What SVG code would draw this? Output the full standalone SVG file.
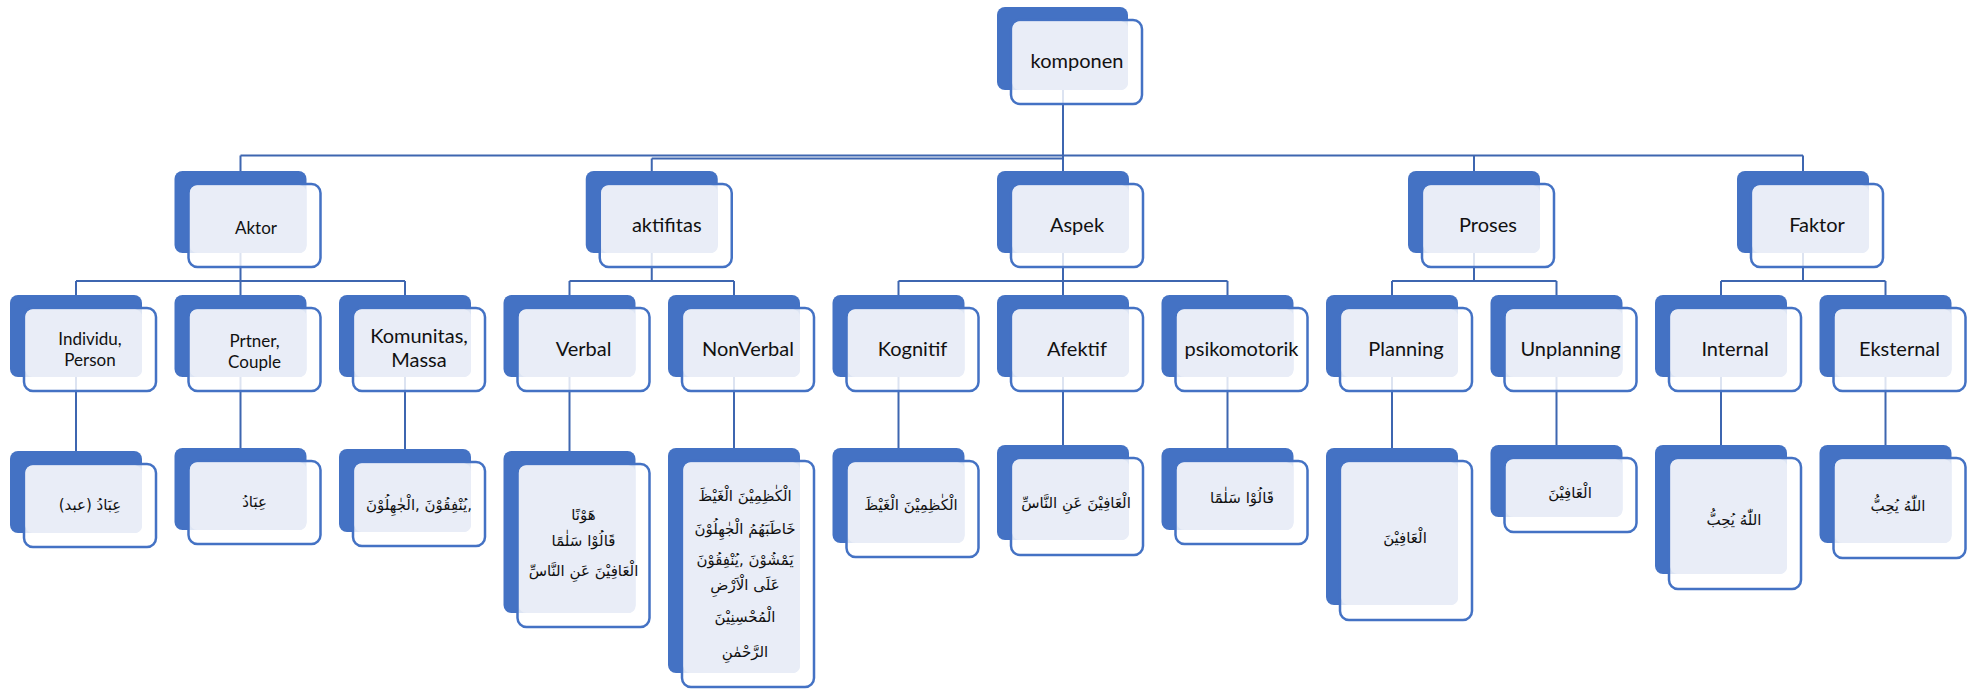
<svg xmlns="http://www.w3.org/2000/svg" width="1975" height="690" viewBox="0 0 1975 690">
  <style>
    .b { fill: #4472C4; }
    .o { fill: #ffffff; fill-opacity: 0.82; stroke: #4472C4; stroke-width: 2.5; }
    .l { fill: #E9EDF7; }
    .c { fill: none; stroke: #3E66B0; stroke-width: 2; }
    .t { font-family: Lato, "Open Sans", "Liberation Sans", sans-serif; fill: #111; text-anchor: middle; }
    .ar { font-family: "DejaVu Sans", sans-serif; fill: #111; text-anchor: middle; direction: rtl; font-size: 15px; }
    .ar.ltr { direction: ltr; }
  </style>

  <!-- connectors -->
  <g id="connectors" class="c">
    <path d="M1063,50 V171"/>
    <path d="M240.5,155.5 H1803"/>
    <path d="M651.75,158.5 H1063"/>
    <path d="M240.5,155.5 V181 M651.75,158.5 V181 M1474,155.5 V181 M1803,155.5 V181"/>
    <!-- level 1 to level 2 -->
    <path d="M240.5,212 V281 M76,281 H405 M76,281 V300 M240.5,281 V300 M405,281 V300"/>
    <path d="M651.75,212 V281 M569.5,281 H734 M569.5,281 V300 M734,281 V300"/>
    <path d="M1063,212 V281 M898.5,281 H1227.5 M898.5,281 V300 M1063,281 V300 M1227.5,281 V300"/>
    <path d="M1474,212 V281 M1392,281 H1556.5 M1392,281 V300 M1556.5,281 V300"/>
    <path d="M1803,212 V281 M1721,281 H1885.5 M1721,281 V300 M1885.5,281 V300"/>
    <!-- level 2 to level 3 -->
    <path d="M76,336 V455 M240.5,336 V455 M405,336 V455 M569.5,336 V455 M734,336 V455 M898.5,336 V455"/>
    <path d="M1063,336 V455 M1227.5,336 V455 M1392,336 V455 M1556.5,336 V455 M1721,336 V455 M1885.5,336 V455"/>
  </g>

  <!-- root -->
  <g id="n-komponen">
    <rect class="b" x="997" y="7" width="131" height="83" rx="8"/>
    <rect class="o" x="1011" y="20" width="131" height="84" rx="9"/>
    <rect class="l" x="1012.5" y="21.5" width="115.5" height="68.5" rx="7"/>
    <text class="t" x="1077" y="68" font-size="20">komponen</text>
  </g>

  <!-- level 1 -->
  <g id="n-aktor">
    <rect class="b" x="174.5" y="171" width="132" height="82" rx="8"/>
    <rect class="o" x="188.5" y="184" width="132" height="83" rx="9"/>
    <rect class="l" x="190" y="185.5" width="116.5" height="67.5" rx="7"/>
    <text class="t" x="256" y="234" font-size="17">Aktor</text>
  </g>
  <g id="n-aktifitas">
    <rect class="b" x="585.75" y="171" width="132" height="82" rx="8"/>
    <rect class="o" x="599.75" y="184" width="132" height="83" rx="9"/>
    <rect class="l" x="601.25" y="185.5" width="116.5" height="67.5" rx="7"/>
    <text class="t" x="666.75" y="232" font-size="20">aktifitas</text>
  </g>
  <g id="n-aspek">
    <rect class="b" x="997" y="171" width="132" height="82" rx="8"/>
    <rect class="o" x="1011" y="184" width="132" height="83" rx="9"/>
    <rect class="l" x="1012.5" y="185.5" width="116.5" height="67.5" rx="7"/>
    <text class="t" x="1077" y="232" font-size="20">Aspek</text>
  </g>
  <g id="n-proses">
    <rect class="b" x="1408" y="171" width="132" height="82" rx="8"/>
    <rect class="o" x="1422" y="184" width="132" height="83" rx="9"/>
    <rect class="l" x="1423.5" y="185.5" width="116.5" height="67.5" rx="7"/>
    <text class="t" x="1488" y="232" font-size="20">Proses</text>
  </g>
  <g id="n-faktor">
    <rect class="b" x="1737" y="171" width="132" height="82" rx="8"/>
    <rect class="o" x="1751" y="184" width="132" height="83" rx="9"/>
    <rect class="l" x="1752.5" y="185.5" width="116.5" height="67.5" rx="7"/>
    <text class="t" x="1817" y="232" font-size="20">Faktor</text>
  </g>

  <!-- level 2 -->
  <g id="n-individu">
    <rect class="b" x="10" y="295" width="132" height="82" rx="8"/>
    <rect class="o" x="24" y="308" width="132" height="83" rx="9"/>
    <rect class="l" x="25.5" y="309.5" width="116.5" height="67.5" rx="7"/>
    <text class="t" x="90" y="345" font-size="17">Individu,</text>
    <text class="t" x="90" y="366" font-size="17">Person</text>
  </g>
  <g id="n-prtner">
    <rect class="b" x="174.5" y="295" width="132" height="82" rx="8"/>
    <rect class="o" x="188.5" y="308" width="132" height="83" rx="9"/>
    <rect class="l" x="190" y="309.5" width="116.5" height="67.5" rx="7"/>
    <text class="t" x="254.5" y="347" font-size="17">Prtner,</text>
    <text class="t" x="254.5" y="368" font-size="17">Couple</text>
  </g>
  <g id="n-komunitas">
    <rect class="b" x="339" y="295" width="132" height="82" rx="8"/>
    <rect class="o" x="353" y="308" width="132" height="83" rx="9"/>
    <rect class="l" x="354.5" y="309.5" width="116.5" height="67.5" rx="7"/>
    <text class="t" x="419" y="343" font-size="20">Komunitas,</text>
    <text class="t" x="419" y="367" font-size="20">Massa</text>
  </g>
  <g id="n-verbal">
    <rect class="b" x="503.5" y="295" width="132" height="82" rx="8"/>
    <rect class="o" x="517.5" y="308" width="132" height="83" rx="9"/>
    <rect class="l" x="519" y="309.5" width="116.5" height="67.5" rx="7"/>
    <text class="t" x="583.5" y="356" font-size="20">Verbal</text>
  </g>
  <g id="n-nonverbal">
    <rect class="b" x="668" y="295" width="132" height="82" rx="8"/>
    <rect class="o" x="682" y="308" width="132" height="83" rx="9"/>
    <rect class="l" x="683.5" y="309.5" width="116.5" height="67.5" rx="7"/>
    <text class="t" x="748" y="356" font-size="20">NonVerbal</text>
  </g>
  <g id="n-kognitif">
    <rect class="b" x="832.5" y="295" width="132" height="82" rx="8"/>
    <rect class="o" x="846.5" y="308" width="132" height="83" rx="9"/>
    <rect class="l" x="848" y="309.5" width="116.5" height="67.5" rx="7"/>
    <text class="t" x="912.5" y="356" font-size="20">Kognitif</text>
  </g>
  <g id="n-afektif">
    <rect class="b" x="997" y="295" width="132" height="82" rx="8"/>
    <rect class="o" x="1011" y="308" width="132" height="83" rx="9"/>
    <rect class="l" x="1012.5" y="309.5" width="116.5" height="67.5" rx="7"/>
    <text class="t" x="1077" y="356" font-size="20">Afektif</text>
  </g>
  <g id="n-psikomotorik">
    <rect class="b" x="1161.5" y="295" width="132" height="82" rx="8"/>
    <rect class="o" x="1175.5" y="308" width="132" height="83" rx="9"/>
    <rect class="l" x="1177" y="309.5" width="116.5" height="67.5" rx="7"/>
    <text class="t" x="1241.5" y="356" font-size="20">psikomotorik</text>
  </g>
  <g id="n-planning">
    <rect class="b" x="1326" y="295" width="132" height="82" rx="8"/>
    <rect class="o" x="1340" y="308" width="132" height="83" rx="9"/>
    <rect class="l" x="1341.5" y="309.5" width="116.5" height="67.5" rx="7"/>
    <text class="t" x="1406" y="356" font-size="20">Planning</text>
  </g>
  <g id="n-unplanning">
    <rect class="b" x="1490.5" y="295" width="132" height="82" rx="8"/>
    <rect class="o" x="1504.5" y="308" width="132" height="83" rx="9"/>
    <rect class="l" x="1506" y="309.5" width="116.5" height="67.5" rx="7"/>
    <text class="t" x="1570.5" y="356" font-size="20">Unplanning</text>
  </g>
  <g id="n-internal">
    <rect class="b" x="1655" y="295" width="132" height="82" rx="8"/>
    <rect class="o" x="1669" y="308" width="132" height="83" rx="9"/>
    <rect class="l" x="1670.5" y="309.5" width="116.5" height="67.5" rx="7"/>
    <text class="t" x="1735" y="356" font-size="20">Internal</text>
  </g>
  <g id="n-eksternal">
    <rect class="b" x="1819.5" y="295" width="132" height="82" rx="8"/>
    <rect class="o" x="1833.5" y="308" width="132" height="83" rx="9"/>
    <rect class="l" x="1835" y="309.5" width="116.5" height="67.5" rx="7"/>
    <text class="t" x="1899.5" y="356" font-size="20">Eksternal</text>
  </g>

  <!-- level 3 -->
  <g id="n-ibad-abd">
    <rect class="b" x="10" y="451" width="132" height="82" rx="8"/>
    <rect class="o" x="24" y="464" width="132" height="83" rx="9"/>
    <rect class="l" x="25.5" y="465.5" width="116.5" height="67.5" rx="7"/>
    <text class="ar" x="90" y="510" font-size="14">عِبَادُ (عبد)</text>
  </g>
  <g id="n-ibad">
    <rect class="b" x="174.5" y="448" width="132" height="82" rx="8"/>
    <rect class="o" x="188.5" y="461" width="132" height="83" rx="9"/>
    <rect class="l" x="190" y="462.5" width="116.5" height="67.5" rx="7"/>
    <text class="ar" x="254.5" y="507">عِبَادُ</text>
  </g>
  <g id="n-yunfiqun">
    <rect class="b" x="339" y="449" width="132" height="83" rx="8"/>
    <rect class="o" x="353" y="462" width="132" height="84" rx="9"/>
    <rect class="l" x="354.5" y="463.5" width="116.5" height="68.5" rx="7"/>
    <text class="ar ltr" x="419" y="510">يُنْفِقُوْنَ ,الْجٰهِلُوْنَ,</text>
  </g>
  <g id="n-verbal-ayat">
    <rect class="b" x="503.5" y="451" width="132" height="162" rx="8"/>
    <rect class="o" x="517.5" y="464" width="132" height="163" rx="9"/>
    <rect class="l" x="519" y="465.5" width="116.5" height="147.5" rx="7"/>
    <text class="ar" x="583.5" y="520">هَوْنًا</text>
    <text class="ar" x="583.5" y="546">قَالُوْا سَلٰمًا</text>
    <text class="ar" x="583.5" y="576" font-size="14">الْعَافِيْنَ عَنِ النَّاسِّ</text>
  </g>
  <g id="n-nonverbal-ayat">
    <rect class="b" x="668" y="448" width="132" height="225" rx="8"/>
    <rect class="o" x="682" y="461" width="132" height="226" rx="9"/>
    <rect class="l" x="683.5" y="462.5" width="116.5" height="210.5" rx="7"/>
    <text class="ar" x="745" y="501">الْكٰظِمِيْنَ الْغَيْظَ</text>
    <text class="ar" x="745" y="534">خَاطَبَهُمُ الْجٰهِلُوْنَ</text>
    <text class="ar" x="745" y="565">يَمْشُوْنَ ,يُنْفِقُوْنَ</text>
    <text class="ar" x="745" y="590">عَلَى الْاَرْضِ</text>
    <text class="ar" x="745" y="622">الْمُحْسِنِيْنَ</text>
    <text class="ar" x="745" y="657">الرَّحْمٰنِ</text>
  </g>
  <g id="n-kognitif-ayat">
    <rect class="b" x="832.5" y="448" width="132" height="95" rx="8"/>
    <rect class="o" x="846.5" y="461" width="132" height="96" rx="9"/>
    <rect class="l" x="848" y="462.5" width="116.5" height="80.5" rx="7"/>
    <text class="ar" x="911" y="510">الْكٰظِمِيْنَ الْغَيْظَ</text>
  </g>
  <g id="n-afektif-ayat">
    <rect class="b" x="997" y="445" width="132" height="95" rx="8"/>
    <rect class="o" x="1011" y="458" width="132" height="97" rx="9"/>
    <rect class="l" x="1012.5" y="459.5" width="116.5" height="80.5" rx="7"/>
    <text class="ar" x="1076" y="508">الْعَافِيْنَ عَنِ النَّاسِّ</text>
  </g>
  <g id="n-psikomotorik-ayat">
    <rect class="b" x="1161.5" y="448" width="132" height="82" rx="8"/>
    <rect class="o" x="1175.5" y="461" width="132" height="83" rx="9"/>
    <rect class="l" x="1177" y="462.5" width="116.5" height="67.5" rx="7"/>
    <text class="ar" x="1242" y="503">قَالُوْا سَلٰمًا</text>
  </g>
  <g id="n-planning-ayat">
    <rect class="b" x="1326" y="448" width="132" height="157" rx="8"/>
    <rect class="o" x="1340" y="461" width="132" height="159" rx="9"/>
    <rect class="l" x="1341.5" y="462.5" width="116.5" height="142.5" rx="7"/>
    <text class="ar" x="1405" y="543">الْعَافِيْنَ</text>
  </g>
  <g id="n-unplanning-ayat">
    <rect class="b" x="1490.5" y="445" width="132" height="72" rx="8"/>
    <rect class="o" x="1504.5" y="458" width="132" height="74" rx="9"/>
    <rect class="l" x="1506" y="459.5" width="116.5" height="57.5" rx="7"/>
    <text class="ar" x="1570" y="498">الْعَافِيْنَ</text>
  </g>
  <g id="n-internal-ayat">
    <rect class="b" x="1655" y="445" width="132" height="129" rx="8"/>
    <rect class="o" x="1669" y="458" width="132" height="131" rx="9"/>
    <rect class="l" x="1670.5" y="459.5" width="116.5" height="114.5" rx="7"/>
    <text class="ar" x="1734" y="525">اللّٰهُ يُحِبُّ</text>
  </g>
  <g id="n-eksternal-ayat">
    <rect class="b" x="1819.5" y="445" width="132" height="98" rx="8"/>
    <rect class="o" x="1833.5" y="458" width="132" height="100" rx="9"/>
    <rect class="l" x="1835" y="459.5" width="116.5" height="83.5" rx="7"/>
    <text class="ar" x="1898" y="511">اللّٰهُ يُحِبُّ</text>
  </g>
</svg>
